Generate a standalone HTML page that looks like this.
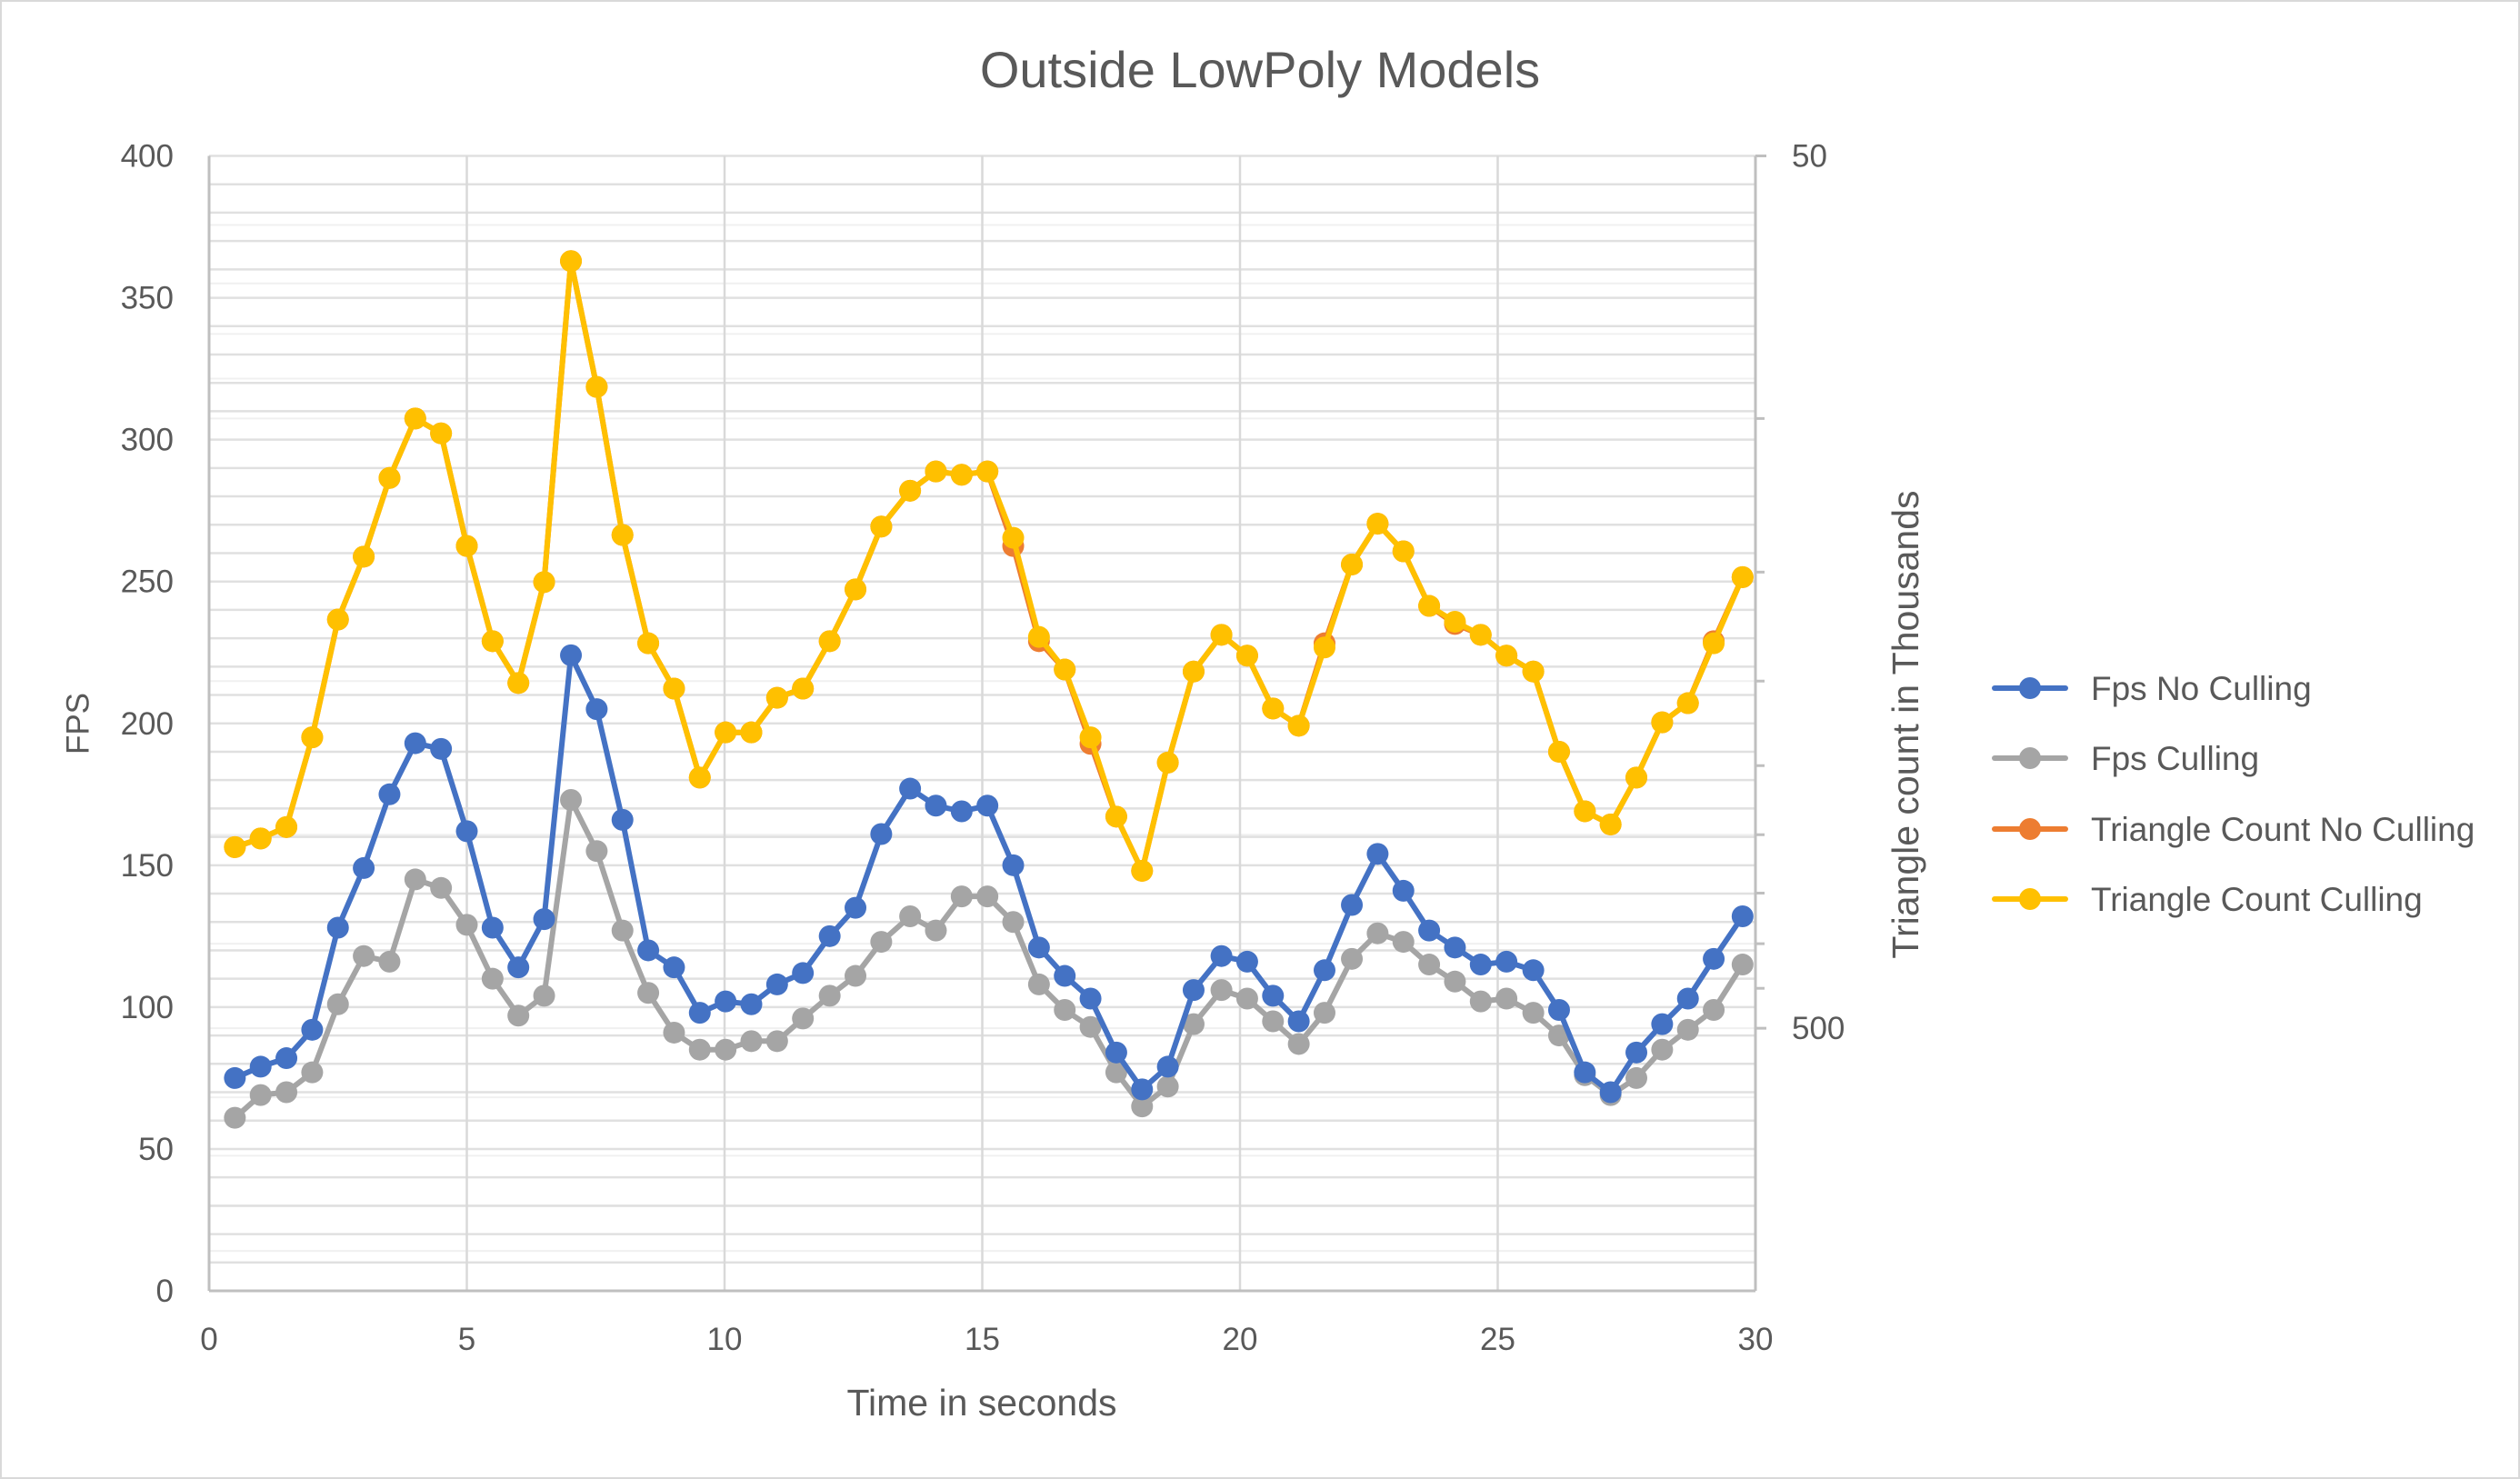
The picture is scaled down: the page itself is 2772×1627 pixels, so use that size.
<!DOCTYPE html>
<html><head><meta charset="utf-8"><style>
html,body{margin:0;padding:0;background:#fff}
svg{display:block}
text{font-family:"Liberation Sans",sans-serif;fill:#595959}
</style></head><body>
<svg id="chart" width="2772" height="1627" viewBox="0 0 2772 1627" xmlns="http://www.w3.org/2000/svg">
<rect x="1" y="1" width="2770" height="1625" fill="#fff" stroke="#d9d9d9" stroke-width="2"/>
<text x="1386" y="96" font-size="56" text-anchor="middle">Outside LowPoly Models</text>
<g id="grid"></g>
<g id="axes"></g>
<g id="series"></g>
<text x="88" y="796" font-size="35" text-anchor="middle" transform="rotate(-90 88 796)" dominant-baseline="middle">FPS</text>
<text x="2099" y="797" font-size="41" text-anchor="middle" transform="rotate(-90 2099 797)" dominant-baseline="middle">Triangle count in Thousands</text>
<text x="1080" y="1557" font-size="41" text-anchor="middle">Time in seconds</text>
<g id="legend"></g>
</svg>
<script>
const times=[0.5,1.0,1.5,2.0,2.5,3.0,3.5,4.0,4.5,5.0,5.5,6.0,6.5,7.02,7.52,8.02,8.52,9.02,9.52,10.02,10.52,11.02,11.52,12.04,12.54,13.04,13.6,14.1,14.6,15.1,15.6,16.1,16.6,17.1,17.6,18.1,18.6,19.1,19.64,20.14,20.64,21.14,21.64,22.17,22.67,23.17,23.67,24.17,24.67,25.17,25.69,26.19,26.69,27.19,27.69,28.19,28.69,29.19,29.75];
const fpsNoCulling=[75,79,82,92,128,149,175,193,191,162,128,114,131,224,205,166,120,114,98,102,101,108,112,125,135,161,177,171,169,171,150,121,111,103,84,71,79,106,118,116,104,95,113,136,154,141,127,121,115,116,113,99,77,70,84,94,103,117,132];
const fpsCulling=[61,69,70,77,101,118,116,145,142,129,110,97,104,173,155,127,105,91,85,85,88,88,96,104,111,123,132,127,139,139,130,108,99,93,77,65,72,94,106,103,95,87,98,117,126,123,115,109,102,103,98,90,76,69,75,85,92,99,115];
const triNoCulling=[310,303,294,232,170,144,117,100,104,140,180,201,154,66,92,136,181,204,258,229,229,209,204,180,157,133,121,115,116,115,140,180,194,236,286,330,248,195,177,187,215,225,181,147,132,142,164,172,177,187,195,241,282,292,258,223,212,180,152];
const triCulling=[310,303,294,232,170,144,117,100,104,140,180,201,154,66,92,136,181,204,258,229,229,209,204,180,157,133,121,115,116,115,137,178,194,232,286,330,248,195,177,187,215,225,183,147,132,142,164,171,177,187,195,241,282,292,258,223,212,181,152];
const xTicks=[0,5,10,15,20,25,30];
const yTicks=[0,50,100,150,200,250,300,350,400];
const y2Labels=[50,500];
const y2Minor=[100,150,200,250,300,350,400,450];
const seriesNames=["Fps No Culling","Fps Culling","Triangle Count No Culling","Triangle Count Culling"];

const L=230,R=1931,T=171.5,B=1420;
const NS="http://www.w3.org/2000/svg";
function xs(t){return L+(t/30)*(R-L);}
function ys(v){return B-(v/400)*(B-T);}
function y2s(v){return T+(Math.log(v/50)/Math.log(20))*(B-T);}
function mk(tag,attrs,parent){const e=document.createElementNS(NS,tag);for(const k in attrs)e.setAttribute(k,attrs[k]);parent.appendChild(e);return e;}
const grid=document.getElementById('grid'),axes=document.getElementById('axes'),ser=document.getElementById('series'),leg=document.getElementById('legend');

[60,70,80,90,100,200,300,400,500,600,700,800,900].forEach(v=>{
  const l=mk('line',{x1:L,x2:R,y1:y2s(v),y2:y2s(v),stroke:'#f0f0f0','stroke-width':2},grid);
  
  
});
for(let v=10;v<=400;v+=10){
  const l=mk('line',{x1:L,x2:R,y1:ys(v),y2:ys(v),stroke:'#e0e0e0','stroke-width':2.5},grid);
  
  
}
xTicks.forEach(t=>{
  if(t>0&&t<30){
    const l=mk('line',{x1:xs(t),x2:xs(t),y1:T,y2:B,stroke:'#d9d9d9','stroke-width':2.5},grid);
    
    
  }
  const tx=mk('text',{x:xs(t),y:1485,'font-size':35,'text-anchor':'middle'},axes);
  tx.textContent=t;
  
  
});
yTicks.forEach(v=>{
  const tx=mk('text',{x:191,y:ys(v)+12,'font-size':35,'text-anchor':'end'},axes);
  tx.textContent=v;
  
  
});
const ax1=mk('line',{x1:L,x2:L,y1:T,y2:B,stroke:'#bfbfbf','stroke-width':3},axes);


const ax2=mk('line',{x1:L,x2:R,y1:B,y2:B,stroke:'#bfbfbf','stroke-width':3},axes);


const ax3=mk('line',{x1:R,x2:R,y1:T,y2:B,stroke:'#bfbfbf','stroke-width':3},axes);


y2Labels.forEach(v=>{
  const tk=mk('line',{x1:R,x2:R+12,y1:y2s(v),y2:y2s(v),stroke:'#bfbfbf','stroke-width':3},axes);
  
  
  const tx=mk('text',{x:1971,y:y2s(v)+12,'font-size':35},axes);
  tx.textContent=v;
  
  
});
y2Minor.forEach(v=>{
  const tk=mk('line',{x1:R,x2:R+10,y1:y2s(v),y2:y2s(v),stroke:'#bfbfbf','stroke-width':3},axes);
  
  
});

function drawSeries(vals,yf,color,name){
  const g=mk('g',{},ser);
  
  
  const pts=vals.map((v,i)=>xs(times[i]).toFixed(1)+','+yf(v).toFixed(1)).join(' ');
  const pl=mk('polyline',{points:pts,fill:'none',stroke:color,'stroke-width':6,'stroke-linejoin':'round'},g);
  
  
  vals.forEach((v,i)=>{
    const c=mk('circle',{cx:xs(times[i]),cy:yf(v),r:12,fill:color},g);
    
    
  });
}
drawSeries(triNoCulling,y2s,'#ed7d31','triangle-count-no-culling');
drawSeries(triCulling,y2s,'#ffc000','triangle-count-culling');
drawSeries(fpsCulling,ys,'#a5a5a5','fps-culling');
drawSeries(fpsNoCulling,ys,'#4472c4','fps-no-culling');

const colors=['#4472c4','#a5a5a5','#ed7d31','#ffc000'];
const rows=[757,834,912,989];
seriesNames.forEach((n,i)=>{
  const g=mk('g',{},leg);
  
  
  mk('line',{x1:2194,x2:2272,y1:rows[i],y2:rows[i],stroke:colors[i],'stroke-width':6,'stroke-linecap':'round'},g);
  mk('circle',{cx:2233,cy:rows[i],r:12,fill:colors[i]},g);
  const tx=mk('text',{x:2300,y:rows[i]+13,'font-size':37},g);
  tx.textContent=n;
});
</script>
</body></html>
